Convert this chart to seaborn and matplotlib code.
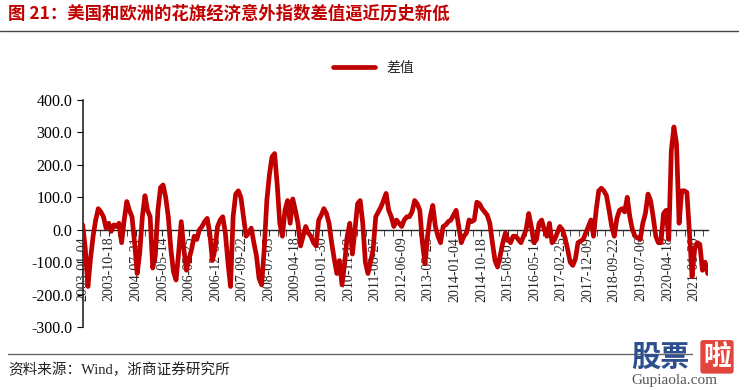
import numpy as np
import pandas as pd
import matplotlib
matplotlib.use('Agg')
import matplotlib.pyplot as plt
import matplotlib.dates as mdates
from matplotlib.ticker import FormatStrFormatter
import seaborn as sns

# US minus Europe Citi economic surprise index
# (one value every 4 weeks starting 2003-01-04)
diff_2003_2007 = [15, -60, -175, -90, -20, 30, 65, 55, 40, 5,
                  20, -5, 15, 10, 20, -40, 30, 87, 60, 40,
                  -40, -135, -70, 40, 105, 60, 40, -118, -80, 60,
                  130, 138, 100, 40, -60, -130, -155, -70, 25, -60,
                  -125, -90, -60, -20, -30, 0, 10, 25, 35, -10,
                  -95, -60, 10, 30, 40, -10, -100, -175, 40, 110]
diff_2007_2011 = [120, 100, 40, -20, -10, 5, -40, -80, -150, -170,
                  -60, 90, 170, 225, 235, 140, 20, -20, 60, 90,
                  20, 95, 60, 20, -50, -20, 10, -10, -20, -40,
                  -50, 30, 45, 65, 50, 20, -40, -90, -135, -95,
                  -170, -105, -20, 20, -75, 0, 80, 90, 20, -100,
                  -135, -100, -60, 40, 55, 70, 90, 112, 60, 40]
diff_2012_2016 = [10, 30, 20, 10, 30, 40, 40, 55, 90, 80,
                  60, -40, -105, -20, 40, 75, 10, -20, -40, 10,
                  15, 25, 30, 45, 60, 10, -40, -20, -10, 30,
                  25, 30, 85, 80, 65, 55, 45, 20, -40, -95,
                  -115, -80, -40, -10, -30, -40, -20, -20, -30, -40,
                  -20, 0, 50, 10, -40, -30, 20, 30, 0, -20]
diff_2016_2021 = [20, -40, -30, -10, 10, 0, -25, -60, -100, -110,
                  -90, -40, -35, -30, -10, 10, 30, -20, 60, 120,
                  128, 120, 105, 60, 10, -20, 35, 60, 65, 55,
                  100, 40, 0, -20, -25, -30, 20, 50, 110, 90,
                  40, -20, -40, -40, 50, 60, -30, 245, 317, 265,
                  20, 120, 120, 115, -10, -145, -60, -40, -45, -125,
                  -100, -135]

values = diff_2003_2007 + diff_2007_2011 + diff_2012_2016 + diff_2016_2021
dates = pd.date_range('2003-01-04', periods=len(values), freq='28D')
df = pd.DataFrame({'date': dates, '差值': values})

# axis labels every 41 weeks like the original
tick_dates = pd.date_range('2003-01-04', periods=24, freq='287D')
y_ticks = [-300, -200, -100, 0, 100, 200, 300, 400]

title = '图 21：美国和欧洲的花旗经济意外指数差值逼近历史新低'
source = '资料来源：Wind，浙商证券研究所'

sns.set_style('ticks')
plt.rcParams['font.family'] = ['Liberation Serif', 'Noto Sans CJK SC']
plt.rcParams['axes.unicode_minus'] = False

red = '#C00000'

fig = plt.figure(figsize=(7.52, 3.9), dpi=100)
ax = fig.add_axes([0.110, 0.1615, 0.831, 0.582])

sns.lineplot(data=df, x='date', y='差值', ax=ax, color=red, lw=3.4,
             label='差值', zorder=3)

ax.set_ylim(-300, 400)
ax.set_xlim(dates[0], dates[-1])
ax.set_yticks(y_ticks)
ax.yaxis.set_major_formatter(FormatStrFormatter('%.1f'))
ax.set_xticks(tick_dates)
ax.xaxis.set_major_formatter(mdates.DateFormatter('%Y-%m-%d'))
start = mdates.date2num(tick_dates[0])
minor = [start + i * 287 / 3 for i in range(0, 72)]
minor = [m for m in minor if m <= mdates.date2num(dates[-1])]
ax.set_xticks(minor, minor=True)

ax.set_xlabel('')
ax.set_ylabel('')
sns.despine(ax=ax)
ax.spines['bottom'].set_position(('data', 0))
ax.spines['bottom'].set_zorder(1)
ax.spines['left'].set_linewidth(1.2)
ax.spines['bottom'].set_linewidth(1.0)
ax.tick_params(axis='y', direction='out', length=4, labelsize=11.5, colors='black')
ax.tick_params(axis='x', which='both', direction='out', length=4, pad=1,
               labelsize=10, labelrotation=90)

leg = ax.legend(loc='center', bbox_to_anchor=(0.497, 0.826),
                bbox_transform=fig.transFigure, frameon=False,
                fontsize=10, handlelength=3.0)
for t in leg.get_texts():
    t.set_fontfamily('Noto Sans CJK SC')

# header and footer
fig.text(0.011, 0.965, title, fontsize=12.5, fontweight='bold', color=red,
         family=['Noto Sans CJK SC'], va='center', ha='left')
fig.add_artist(plt.Line2D([0.0, 0.982], [0.921, 0.921], color='#444444', lw=1.0))
fig.add_artist(plt.Line2D([0.011, 0.92], [0.092, 0.092], color='#666666', lw=1.0))
fig.text(0.011, 0.052, source, fontsize=10.5, color='#222222', va='center', ha='left')

# watermark in the lower right corner
fig.text(0.84, 0.085, '股票', fontsize=21, fontweight='bold', color='#2E4F8F',
         family=['Noto Sans CJK SC'], va='center', ha='left')
fig.text(0.935, 0.085, '啦', fontsize=20, fontweight='bold', color='white',
         family=['Noto Sans CJK SC'], va='center', ha='left',
         bbox=dict(boxstyle='round,pad=0.1', fc='#E0463C', ec='none'))
fig.text(0.84, 0.025, 'Gupiaola.com', fontsize=11, color='#555555',
         va='center', ha='left')

plt.savefig('out.png', dpi=100)
